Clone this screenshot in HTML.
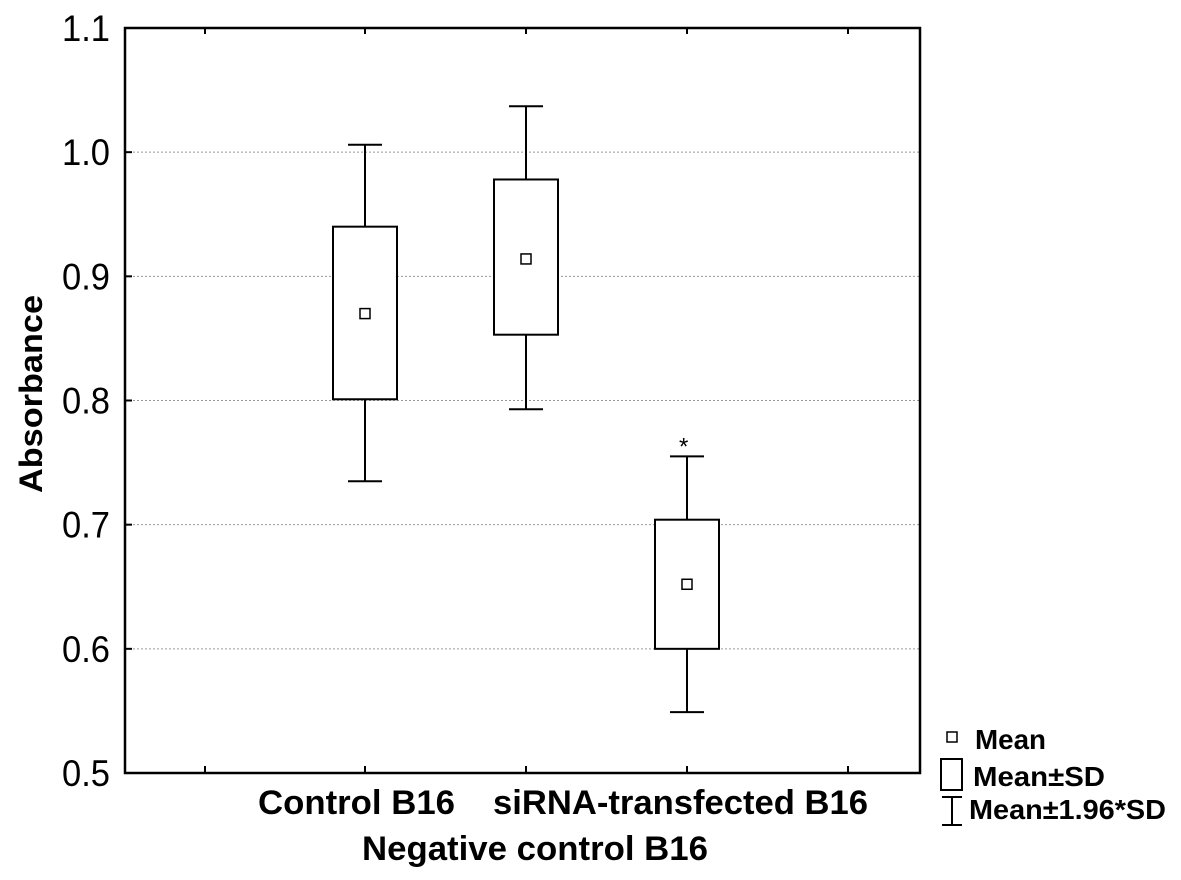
<!DOCTYPE html>
<html><head><meta charset="utf-8"><style>
html,body{margin:0;padding:0;background:#fff}
svg{display:block}
text{font-family:"Liberation Sans",Arial,sans-serif;fill:#000}
</style></head><body>
<svg id="chart" width="1181" height="880"></svg>
<script>
const categories=["Control B16","Negative control B16","siRNA-transfected B16"];
const means=[0.870,0.914,0.652];
const sdLow=[0.801,0.853,0.600];
const sdHigh=[0.940,0.978,0.704];
const ciLow=[0.735,0.793,0.549];
const ciHigh=[1.006,1.037,0.755];
const yTicks=[0.5,0.6,0.7,0.8,0.9,1.0,1.1];
const yTickLabels=["0.5","0.6","0.7","0.8","0.9","1.0","1.1"];
const marks=["","","*"];

const NS="http://www.w3.org/2000/svg";
const svg=document.getElementById('chart');
const L=125,R=920,T=28,B=773;
const y=v=>B-(v-0.5)/(0.6)*(B-T);
const xPos=[205,365,526,687,848];
const x=i=>xPos[i+1];
function mk(tag,attrs,parent){const e=document.createElementNS(NS,tag);for(const k in attrs)e.setAttribute(k,attrs[k]);(parent||svg).appendChild(e);return e;}

yTicks.forEach((v,i)=>{
  if(i>0&&i<yTicks.length-1){const g=mk('line',{x1:L,x2:R,y1:y(v),y2:y(v),stroke:'#999','stroke-width':1,'stroke-dasharray':'2,2'});
  
  }
  const tk=mk('line',{x1:L,x2:L+7,y1:y(v),y2:y(v),stroke:'#000','stroke-width':2});
  
  
  const t=mk('text',{x:110,y:y(v)+13,'text-anchor':'end','font-size':37,'textLength':48,'lengthAdjust':'spacingAndGlyphs'});
  t.textContent=yTickLabels[i];
  
  
});
xPos.forEach(px=>{
  const a=mk('line',{x1:px,x2:px,y1:B,y2:B-7,stroke:'#000','stroke-width':2});
  
  
  const b=mk('line',{x1:px,x2:px,y1:T,y2:T+6,stroke:'#000','stroke-width':2});
  
  
});
const frame=mk('rect',{x:L,y:T,width:R-L,height:B-T,fill:'none',stroke:'#000','stroke-width':2.5});



categories.forEach((c,i)=>{
  const cx=x(i);
  const g=mk('g',{});
  
  
  mk('line',{x1:cx,x2:cx,y1:y(ciHigh[i]),y2:y(sdHigh[i]),stroke:'#000','stroke-width':2},g);
  mk('line',{x1:cx,x2:cx,y1:y(sdLow[i]),y2:y(ciLow[i]),stroke:'#000','stroke-width':2},g);
  mk('line',{x1:cx-17,x2:cx+17,y1:y(ciHigh[i]),y2:y(ciHigh[i]),stroke:'#000','stroke-width':2},g);
  mk('line',{x1:cx-17,x2:cx+17,y1:y(ciLow[i]),y2:y(ciLow[i]),stroke:'#000','stroke-width':2},g);
  mk('rect',{x:cx-32,y:y(sdHigh[i]),width:64,height:y(sdLow[i])-y(sdHigh[i]),fill:'#fff',stroke:'#000','stroke-width':2},g);
  mk('rect',{x:cx-5,y:y(means[i])-5,width:10,height:10,fill:'#fff',stroke:'#000','stroke-width':1.5},g);
  if(marks[i]){const s=mk('text',{x:cx-8,y:y(ciHigh[i])-2,'font-size':24},g);s.textContent=marks[i];
  
  }
});
</script>
<svg style="position:absolute;left:0;top:0" width="1181" height="880">
<text x="258" y="814" font-size="34" font-weight="bold" textLength="197" lengthAdjust="spacingAndGlyphs">Control B16</text>
<text x="493" y="814" font-size="34" font-weight="bold" textLength="375" lengthAdjust="spacingAndGlyphs">siRNA-transfected B16</text>
<text x="362" y="860" font-size="34" font-weight="bold" textLength="346" lengthAdjust="spacingAndGlyphs">Negative control B16</text>
<text transform="translate(42,493) rotate(-90)" font-size="32" font-weight="bold" textLength="198" lengthAdjust="spacingAndGlyphs">Absorbance</text>
<g>
<rect x="947" y="732" width="10" height="10" fill="#fff" stroke="#000" stroke-width="1.5"/>
<text x="975" y="749" font-size="28" font-weight="bold" textLength="71" lengthAdjust="spacingAndGlyphs">Mean</text>
<rect x="941" y="759" width="21" height="31" fill="#fff" stroke="#000" stroke-width="2"/>
<text x="973" y="786" font-size="28" font-weight="bold" textLength="132" lengthAdjust="spacingAndGlyphs">Mean±SD</text>
<line x1="952" x2="952" y1="797" y2="825" stroke="#000" stroke-width="2"/>
<line x1="942" x2="962" y1="797" y2="797" stroke="#000" stroke-width="2"/>
<line x1="942" x2="962" y1="825" y2="825" stroke="#000" stroke-width="2"/>
<text x="969" y="819" font-size="28" font-weight="bold" textLength="197" lengthAdjust="spacingAndGlyphs">Mean±1.96*SD</text>
</g>
</svg>
</body></html>
